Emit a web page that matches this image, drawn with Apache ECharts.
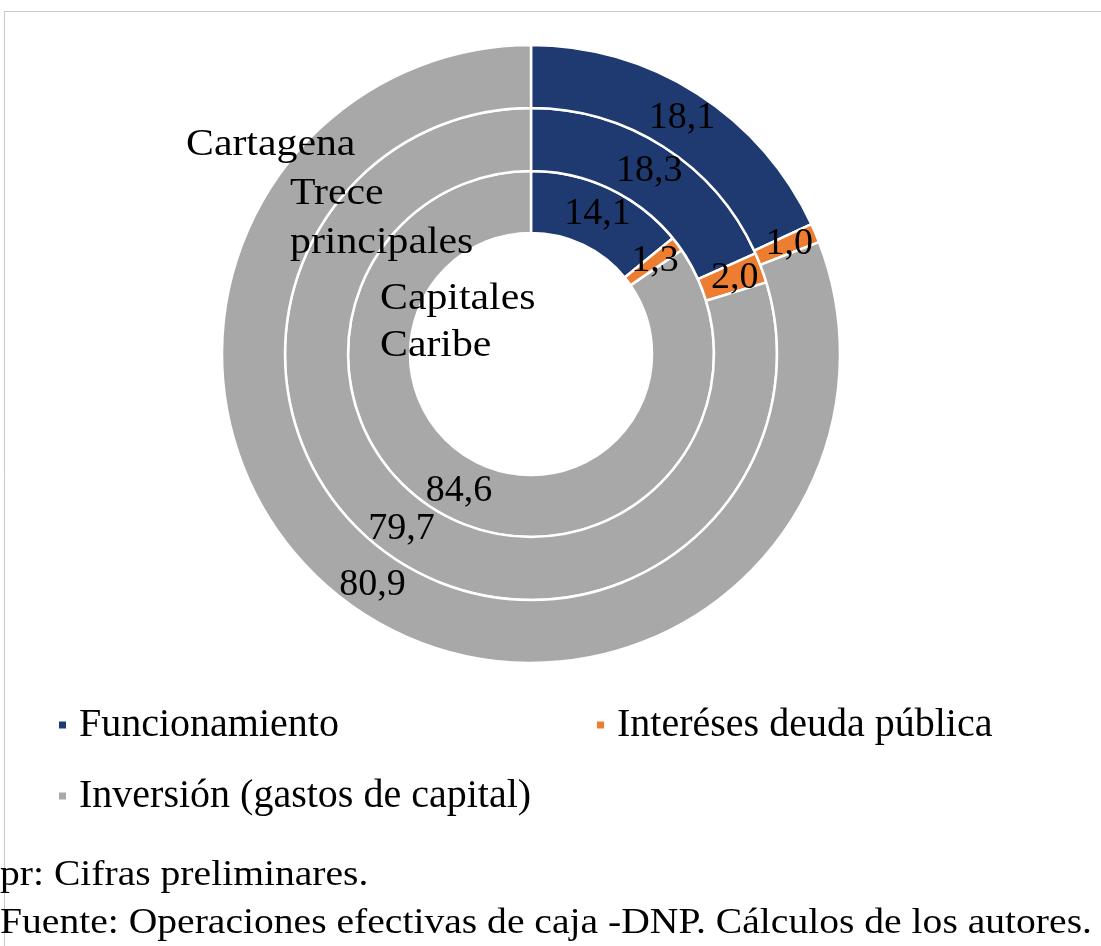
<!DOCTYPE html>
<html>
<head>
<meta charset="utf-8">
<script src="https://cdn.jsdelivr.net/npm/echarts@6/dist/echarts.min.js"></script>
<style>
  html, body { margin: 0; padding: 0; background: #fff; }
  #chart { width: 1101px; height: 946px; }
</style>
</head>
<body>
<div id="chart"></div>
<script>
// categorias (segmentos de cada anillo)
const categories = ['Funcionamiento', 'Interéses deuda pública', 'Inversión (gastos de capital)'];
// anillos, de adentro hacia afuera
const rings = ['Capitales Caribe', 'Trece principales', 'Cartagena'];
const capitalesCaribe = [14.1, 1.3, 84.6];
const treceprincipales = [18.3, 2.0, 79.7];
const cartagena = [18.1, 1.0, 80.9];
const notes = ['pr: Cifras preliminares.', 'Fuente: Operaciones efectivas de caja -DNP. Cálculos de los autores.'];

const colors = ['#1F3A70', '#ED7D31', '#A8A8A8'];
const font = '"Liberation Serif", "Times New Roman", serif';

const chart = echarts.init(document.getElementById('chart'));

function ring(name, values, radius) {
  return {
    name: name,
    type: 'pie',
    center: [531, 354],
    radius: radius,
    startAngle: 90,
    clockwise: true,
    silent: true,
    animation: false,
    avoidLabelOverlap: false,
    labelLayout: { hideOverlap: false },
    itemStyle: { borderColor: '#fff', borderWidth: 2.5 },
    label: {
      show: true,
      position: 'inside',
      color: '#000',
      fontFamily: font,
      fontSize: 38,
      formatter: p => p.value.toFixed(1).replace('.', ',')
    },
    labelLine: { show: false },
    data: values.map((v, i) => ({ name: categories[i], value: v }))
  };
}

function legendAt(name, left, top) {
  return {
    data: [name],
    left: left,
    top: top,
    icon: 'rect',
    itemWidth: 9,
    itemHeight: 9,
    selectedMode: false,
    textStyle: { fontFamily: font, fontSize: 40, color: '#000', padding: [0, 0, 0, 7] }
  };
}

// textos sueltos (nombres de anillos y notas), algo estirados a lo ancho como en la imagen
const txt = (s, x, y, size) => ({
  type: 'text', x: x, y: y, scaleX: 1.1, z: 100,
  style: { text: s, font: size + 'px ' + font, fill: '#000', verticalAlign: 'top' }
});

chart.setOption({
  color: colors,
  legend: [
    legendAt(categories[0], 52, 700),
    legendAt(categories[1], 590, 700),
    legendAt(categories[2], 52, 771)
  ],
  graphic: [
    { type: 'rect', shape: { x: 4.5, y: 11.5, width: 1200, height: 1000 },
      style: { fill: null, stroke: '#C8C8C8', lineWidth: 1 }, silent: true },
    txt(rings[2], 186, 126, 38),
    txt('Trece', 290, 175, 38),
    txt('principales', 290, 224, 38),
    txt('Capitales', 380, 280, 38),
    txt('Caribe', 380, 327, 38),
    txt(notes[0], 0, 858, 36),
    txt(notes[1], 0, 906, 36)
  ],
  series: [
    ring(rings[0], capitalesCaribe, [121, 183]),
    ring(rings[1], treceprincipales, [183, 246]),
    ring(rings[2], cartagena, [246, 309])
  ]
});
</script>
</body>
</html>
